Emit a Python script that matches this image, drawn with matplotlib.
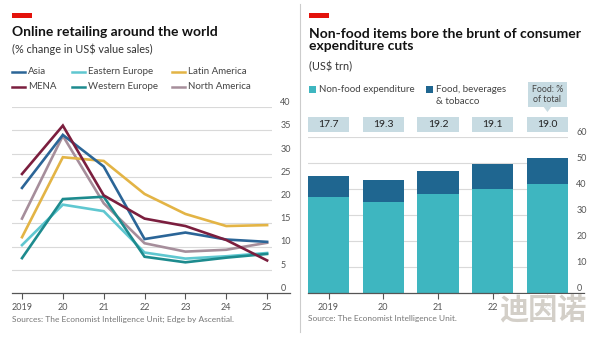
import numpy as np
import matplotlib.pyplot as plt
from matplotlib.patches import Rectangle, Polygon

plt.rcParams['font.family'] = ['Lato', 'DejaVu Sans']

W, H = 594, 337

## ---- left panel: online retail growth, % ----
years = [2019, 2020, 2021, 2022, 2023, 2024, 2025]
year_labels = ['2019', '20', '21', '22', '23', '24', '25']
asia = [22.6, 34.0, 27.2, 11.6, 13.0, 11.5, 11.0]
mena = [25.6, 36.0, 21.0, 16.0, 14.4, 11.4, 7.0]
latam = [12.0, 29.2, 28.4, 21.3, 17.0, 14.4, 14.6]
east_eu = [10.3, 19.0, 17.6, 8.7, 7.4, 7.9, 8.6]
west_eu = [7.5, 20.2, 20.7, 7.8, 6.6, 7.6, 8.4]
north_am = [16.0, 33.8, 19.3, 10.7, 8.9, 9.3, 10.8]

## ---- right panel: consumer spending, US$ trn ----
bar_labels = ['2019', '20', '21', '22', '23']
non_food = [37.0, 35.0, 38.0, 40.0, 42.0]
food_share = [17.7, 19.3, 19.2, 19.1, 19.0]   # food as % of total

c_asia = '#2b6597'
c_mena = '#7b1e3e'
c_latam = '#e3b445'
c_east = '#5fc7d0'
c_west = '#1d8b8e'
c_north = '#a68e9b'
c_nonfood = '#3eb6c0'
c_food = '#1f6690'
c_box = '#c7dbe2'
c_grid = '#d9d9d9'
c_text = '#121212'
c_label = '#555555'
c_red = '#e3120b'


def px_rect(x0, y0, x1, y1):
    # pixel box (top-left origin) -> figure fraction
    return [x0 / W, 1 - y1 / H, (x1 - x0) / W, (y1 - y0) / H]


fig = plt.figure(figsize=(W / 100, H / 100), dpi=100)
fig.patch.set_facecolor('white')


def fig_text(x, y, s, **kw):
    return fig.text(x / W, 1 - y / H, s, **kw)


# divider between panels
fig.add_artist(plt.Line2D([300 / W, 300 / W], [1 - 4 / H, 1 - 332 / H],
                          color='#cccccc', lw=0.8))

# ------------------------------- left ---------------------------------
fig.add_artist(Rectangle((12 / W, 1 - 18 / H), 20 / W, 5 / H, color=c_red, lw=0))
fig_text(12, 32, 'Online retailing around the world', fontsize=10,
         fontweight='bold', color=c_text, va='center')
fig_text(12, 49, '(% change in US$ value sales)', fontsize=7.8,
         color='#333333', va='center')

legend_items = [
    ('Asia', c_asia, 12, 72), ('Eastern Europe', c_east, 72, 72),
    ('Latin America', c_latam, 172, 72),
    ('MENA', c_mena, 12, 87), ('Western Europe', c_west, 72, 87),
    ('North America', c_north, 172, 87),
]
for name, col, lx, ly in legend_items:
    fig.add_artist(plt.Line2D([lx / W, (lx + 13) / W], [1 - ly / H] * 2,
                              color=col, lw=1.8))
    fig_text(lx + 16, ly, name, fontsize=7, color='#444444', va='center')

ax1 = fig.add_axes(px_rect(12, 107, 272, 293))
ax1.set_xlim(2018.755, 2025.12)
ax1.set_ylim(0, 40)
for v in range(5, 45, 5):
    ax1.axhline(v, color=c_grid, lw=0.8, zorder=0)
ax1.axhline(0, xmax=1.07, color='#555555', lw=0.9, clip_on=False, zorder=1)

series = [(north_am, c_north), (latam, c_latam), (east_eu, c_east),
          (west_eu, c_west), (asia, c_asia), (mena, c_mena)]
for vals, col in series:
    ax1.plot(years, vals, color=col, lw=1.9, solid_joinstyle='miter', zorder=3)

ax1.set_xticks(years)
ax1.set_xticklabels(year_labels)
ax1.set_yticks(range(0, 45, 5))
ax1.yaxis.tick_right()
ax1.tick_params(axis='y', length=0, pad=6, labelsize=6.5, labelcolor=c_label)
ax1.tick_params(axis='x', length=4, width=0.8, color='#555555', pad=3,
                labelsize=6.5, labelcolor=c_label)
for lbl in ax1.get_yticklabels():
    lbl.set_verticalalignment('bottom')
for s in ax1.spines.values():
    s.set_visible(False)
fig_text(12, 319, 'Sources: The Economist Intelligence Unit; Edge by Ascential.',
         fontsize=6, color='#777777', va='center')

# ------------------------------- right --------------------------------
fig.add_artist(Rectangle((309 / W, 1 - 18 / H), 20 / W, 5 / H, color=c_red, lw=0))
fig_text(309, 40, 'Non-food items bore the brunt of consumer\nexpenditure cuts',
         fontsize=10, fontweight='bold', color=c_text, va='center',
         linespacing=1.05)
fig_text(309, 67, '(US$ trn)', fontsize=7.8, color='#333333', va='center')

fig.add_artist(Rectangle((309 / W, 1 - 93 / H), 7 / W, 7 / H, color=c_nonfood, lw=0))
fig_text(319, 89, 'Non-food expenditure', fontsize=7, color='#444444', va='center')
fig.add_artist(Rectangle((426 / W, 1 - 93 / H), 7 / W, 7 / H, color=c_food, lw=0))
fig_text(436, 89, 'Food, beverages', fontsize=7, color='#444444', va='center')
fig_text(436, 101, '& tobacco', fontsize=7, color='#444444', va='center')

ax2 = fig.add_axes(px_rect(308, 137, 568, 293))
x = np.arange(len(non_food))
nf = np.array(non_food)
share = np.array(food_share)
food = nf * share / (100 - share)

ax2.set_xlim(-0.375, 4.375)
ax2.set_ylim(0, 60)
for v in range(10, 70, 10):
    ax2.axhline(v, color=c_grid, lw=0.8, zorder=0)
ax2.bar(x, nf, width=0.75, color=c_nonfood, zorder=2)
ax2.bar(x, food, bottom=nf, width=0.75, color=c_food, zorder=2)
ax2.axhline(0, xmax=1.06, color='#555555', lw=0.9, clip_on=False, zorder=3)

# food share boxes above the plot
for xi, s in zip(x, food_share):
    ax2.add_patch(Rectangle((xi - 0.375, 61.9), 0.75, 5.8, color=c_box,
                            lw=0, clip_on=False))
    ax2.text(xi, 64.8, f'{s:.1f}', ha='center', va='center', fontsize=7.5,
             color='#222222', clip_on=False)

# callout over the last box
xl = x[-1]
ax2.add_patch(Rectangle((xl - 0.35, 71.5), 0.7, 9.7, color=c_box, lw=0,
                        clip_on=False))
ax2.add_patch(Polygon([[xl - 0.07, 71.6], [xl + 0.07, 71.6], [xl, 69.6]],
                      closed=True, color=c_box, lw=0, clip_on=False))
ax2.text(xl, 76.4, 'Food: %\nof total', ha='center', va='center', fontsize=6.3,
         color='#444444', linespacing=1.1, clip_on=False)

ax2.set_xticks(x)
ax2.set_xticklabels(bar_labels)
ax2.set_yticks(range(0, 70, 10))
ax2.yaxis.tick_right()
ax2.tick_params(axis='y', length=0, pad=6, labelsize=6.5, labelcolor=c_label)
ax2.tick_params(axis='x', length=4, width=0.8, color='#555555', pad=3,
                labelsize=6.5, labelcolor=c_label)
for lbl in ax2.get_yticklabels():
    lbl.set_verticalalignment('bottom')
for s in ax2.spines.values():
    s.set_visible(False)
fig_text(308, 319, 'Source: The Economist Intelligence Unit.', fontsize=6,
         color='#777777', va='center')

# corner mark, drawn over the last year label
mark = fig_text(587, 310, '迪因诺', fontsize=21, fontweight='bold',
                color='#d3cfc8', ha='right', va='center',
                family=['Noto Sans CJK SC', 'DejaVu Sans'])
mark.set_zorder(10)
mark.set_bbox(dict(facecolor='white', edgecolor='none', pad=0.5, alpha=0.85))

fig.savefig('out.png', dpi=100, facecolor='white')
